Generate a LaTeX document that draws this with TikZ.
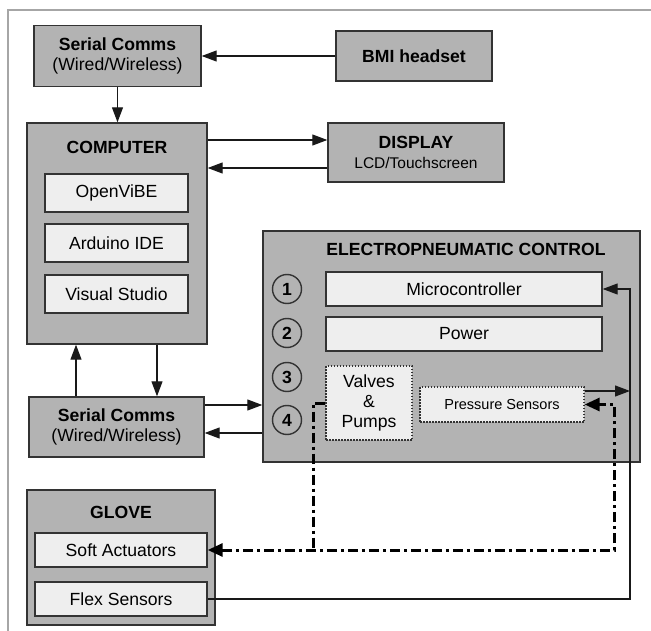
\documentclass[tikz,border=0pt]{standalone}
\usepackage{fontspec}
\setmainfont{Liberation Sans}
\usetikzlibrary{arrows.meta,calc}
\definecolor{boxgray}{HTML}{B3B3B3}
\definecolor{innergray}{HTML}{EEEEEE}
\definecolor{edgegray}{HTML}{333333}
\definecolor{framegray}{HTML}{A6A6A6}
\begin{document}
\begin{tikzpicture}[x=1pt,y=-1pt,
  txt/.style={font=\fontsize{17.6}{20}\selectfont},
  bigbox/.style={draw=edgegray,fill=boxgray,line width=1.4pt,inner sep=0pt,align=center,txt},
  subbox/.style={draw=edgegray,fill=innergray,line width=1.4pt,inner sep=0pt,align=center,txt},
  dotbox/.style={draw=edgegray,fill=innergray,line width=1.3pt,dash pattern=on 1.5pt off 1.5pt,inner sep=0pt,align=center},
  ttl/.style={inner sep=0pt,font=\fontsize{17.6}{20}\selectfont\bfseries},
  num/.style={circle,draw=edgegray,line width=1.4pt,minimum size=29pt,inner sep=0pt,font=\fontsize{17.6}{20}\selectfont\bfseries},
  arr/.style={draw=black!90,line width=1.2pt,-{Triangle[length=15pt,width=11pt]}},
  pn/.style={draw=black,line width=3pt,dash pattern=on 10pt off 4pt on 3pt off 4pt}
]
\useasboundingbox (0,0) rectangle (651,631);
\fill[white] (0,0) rectangle (651,631);
\draw[framegray,line width=1.8pt] (651,10) -- (8,10) -- (8,631);

% helper coordinates
\coordinate (y140) at (0,140);
\coordinate (y168) at (0,168);
\coordinate (y405) at (0,405);
\coordinate (y433) at (0,433);
\coordinate (y391) at (0,391);
\coordinate (x76) at (76,0);
\coordinate (x157) at (157,0);
\coordinate (rx) at (630,0);
\coordinate (rx2) at (614,0);
\coordinate (lx) at (313,0);

% top
\node[bigbox,minimum width=167pt,minimum height=61pt] (sc1) at (117.5,56)
  {\textbf{Serial Comms}\\(Wired/Wireless)};
\node[bigbox,minimum width=156pt,minimum height=50pt] (bmi) at (414,56) {\textbf{BMI headset}};

% computer
\node[bigbox,minimum width=180pt,minimum height=221pt] (comp) at (117,233.5) {};
\node[ttl] (compt) at (117,147) {COMPUTER};
\node[subbox,minimum width=143pt,minimum height=38pt] (ov) at (116.5,193) {OpenViBE};
\node[subbox,minimum width=143pt,minimum height=38pt] (ard) at (116.5,243) {Arduino IDE};
\node[subbox,minimum width=143pt,minimum height=38pt] (vs) at (116.5,294) {Visual Studio};

% display
\node[bigbox,minimum width=176pt,minimum height=59pt] (disp) at (416,152.5)
  {\textbf{DISPLAY}\\{\fontsize{15.5}{18}\selectfont LCD/Touchscreen}};

% serial comms 2
\node[bigbox,minimum width=175pt,minimum height=60pt] (sc2) at (116.5,427)
  {\textbf{Serial Comms}\\(Wired/Wireless)};

% EPC
\node[bigbox,minimum width=377pt,minimum height=231pt] (epc) at (451.5,346.5) {};
\node[ttl] (epct) at (466,249) {ELECTROPNEUMATIC CONTROL};
\node[num] (c1) at (287,289) {1};
\node[num] (c2) at (287,333) {2};
\node[num] (c3) at (287,377) {3};
\node[num] (c4) at (287,420) {4};
\node[subbox,minimum width=276pt,minimum height=34pt] (mc) at (464,289) {Microcontroller};
\node[subbox,minimum width=276pt,minimum height=34pt] (pw) at (464,334) {Power};
\node[dotbox,txt,minimum width=86pt,minimum height=74pt] (vp) at (369,403) {Valves\\\&\\Pumps};
\node[dotbox,font=\fontsize{14.5}{17}\selectfont,minimum width=164pt,minimum height=35pt] (ps) at (502,404.5) {Pressure Sensors};

% glove
\node[bigbox,minimum width=188pt,minimum height=135pt] (glove) at (121,557.5) {};
\node[ttl] (glovet) at (121,512) {GLOVE};
\node[subbox,minimum width=172pt,minimum height=34pt] (sa) at (121,550) {Soft Actuators};
\node[subbox,minimum width=172pt,minimum height=34pt] (fs) at (121,599) {Flex Sensors};

% connectors
\draw[arr] (bmi.west) -- (sc1.east);
\draw[arr] (sc1.south) -- (sc1.south |- comp.north);
\draw[arr] (comp.east |- y140) -- (disp.west |- y140);
\draw[arr] (disp.west |- y168) -- (comp.east |- y168);
\draw[arr] (x76 |- sc2.north) -- (x76 |- comp.south);
\draw[arr] (x157 |- comp.south) -- (x157 |- sc2.north);
\draw[arr] (sc2.east |- y405) -- (epc.west |- y405);
\draw[arr] (epc.west |- y433) -- (sc2.east |- y433);
\draw[arr] (fs.east) -| (rx |- mc.east) -- (mc.east);
\draw[arr] (ps.east |- y391) -- (rx |- y391);

% pneumatic lines
\draw[pn,{Triangle[length=15pt,width=13pt]}-{Triangle[length=15pt,width=13pt]}]
  (sa.east) -- (rx2 |- sa.east) -- (rx2 |- ps.east) -- (ps.east);
\draw[pn] (vp.west) -- (lx |- vp.west) -- (lx |- sa.east);
\end{tikzpicture}
\end{document}
